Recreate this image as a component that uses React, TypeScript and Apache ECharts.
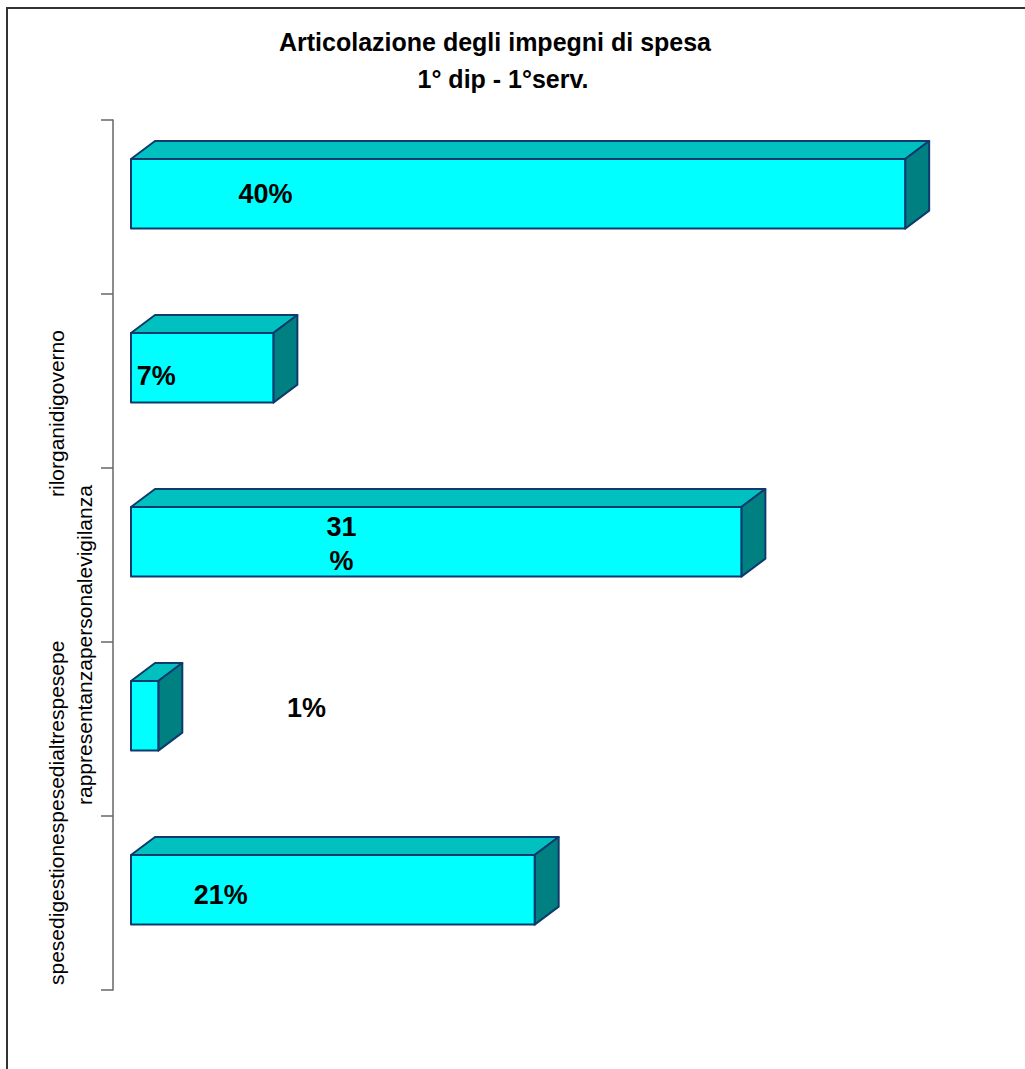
import React, { useEffect, useRef } from "react";
import * as echarts from "echarts";

// ---- data ----
const CATEGORIES = [
  "rilorganidigoverno",
  "rappresentanza",
  "personalevigilanza",
  "altrespese",
  "spesedigestione",
];
const VALUES = [39.7, 7.3, 31.3, 1.4, 20.7];
const LABELS = ["40%", "7%", "31\n%", "1%", "21%"];
// where Excel put each percentage label (value units along the bar)
const LABEL_AT = [6.9, 1.3, 10.8, 9.0, 4.6];
const LABEL_DY = [0, 8, 2, -8, 5];
const TITLE_LINES = ["Articolazione degli impegni di spesa", "1° dip - 1°serv."];
const AXIS_TEXT_1A = "spesedigestionespesedialtrespesepe";
const AXIS_TEXT_1B = "rilorganidigoverno";
const AXIS_TEXT_2 = "rappresentanzapersonalevigilanza";

const FONT = '"Liberation Sans", Arial, Helvetica, sans-serif';
const EDGE = "#0F3A6C";

export default function App() {
  const ref = useRef<HTMLDivElement>(null);

  useEffect(() => {
    if (!ref.current) return;
    const chart = echarts.init(ref.current, null, { renderer: "svg" });

    const option: any = {
      animation: false,
      backgroundColor: "#ffffff",
      grid: { left: 131, right: 114, top: 120, bottom: 79 },
      xAxis: { type: "value", min: 0, max: 40, show: false },
      yAxis: {
        type: "category",
        data: CATEGORIES,
        inverse: true,
        offset: 18,
        axisLine: { show: true, onZero: false, lineStyle: { color: "#666666", width: 1.5 } },
        axisTick: { show: true, length: 12, lineStyle: { color: "#666666", width: 1.5 } },
        axisLabel: { show: false },
        splitLine: { show: false },
      },
      series: [
        {
          type: "custom",
          clip: false,
          encode: { x: 0, y: 1 },
          data: VALUES.map((v, i) => [v, i]),
          renderItem: (params: any, api: any) => {
            const idx = api.value(1);
            const v = api.value(0);
            const p1 = api.coord([v, idx]);
            const p0 = api.coord([0, idx]);
            const band = api.size([0, 1])[1];
            const x0 = p0[0];
            const x1 = p1[0];
            const yc = p1[1];
            const ft = yc - 0.276 * band;
            const h = 0.4 * band;
            const dx = 0.138 * band;
            const dy = 0.103 * band;
            const lp = api.coord([LABEL_AT[idx], idx]);
            const common = { stroke: EDGE, lineWidth: 2, lineJoin: "round" };
            return {
              type: "group",
              children: [
                {
                  type: "polygon",
                  shape: {
                    points: [
                      [x0, ft],
                      [x0 + dx, ft - dy],
                      [x1 + dx, ft - dy],
                      [x1, ft],
                    ],
                  },
                  style: { fill: "#00C0C0", ...common },
                },
                {
                  type: "polygon",
                  shape: {
                    points: [
                      [x1, ft],
                      [x1 + dx, ft - dy],
                      [x1 + dx, ft + h - dy],
                      [x1, ft + h],
                    ],
                  },
                  style: { fill: "#008080", ...common },
                },
                {
                  type: "rect",
                  shape: { x: x0, y: ft, width: x1 - x0, height: h },
                  style: { fill: "#00FFFF", ...common },
                },
                {
                  type: "text",
                  x: lp[0],
                  y: ft + h / 2 + LABEL_DY[idx],
                  style: {
                    text: LABELS[idx],
                    fill: "#000000",
                    fontFamily: FONT,
                    fontWeight: "bold",
                    fontSize: 27,
                    lineHeight: 34,
                    align: "center",
                    verticalAlign: "middle",
                  },
                },
              ],
            };
          },
        },
      ],
      graphic: [
        {
          type: "rect",
          shape: { x: 7, y: 8, width: 1060, height: 1100 },
          style: { fill: "none", stroke: "#333333", lineWidth: 2 },
          silent: true,
        },
        {
          type: "text",
          x: 495,
          y: 42,
          style: {
            text: TITLE_LINES[0],
            fill: "#000",
            fontFamily: FONT,
            fontWeight: "bold",
            fontSize: 25,
            align: "center",
            verticalAlign: "middle",
          },
        },
        {
          type: "text",
          x: 503,
          y: 79,
          style: {
            text: TITLE_LINES[1],
            fill: "#000",
            fontFamily: FONT,
            fontWeight: "bold",
            fontSize: 25,
            align: "center",
            verticalAlign: "middle",
          },
        },
        {
          type: "text",
          x: 56,
          y: 985,
          rotation: Math.PI / 2,
          style: {
            text: AXIS_TEXT_1A,
            fill: "#000",
            fontFamily: FONT,
            fontSize: 21,
            align: "left",
            verticalAlign: "middle",
          },
        },
        {
          type: "text",
          x: 56,
          y: 497,
          rotation: Math.PI / 2,
          style: {
            text: AXIS_TEXT_1B,
            fill: "#000",
            fontFamily: FONT,
            fontSize: 21,
            align: "left",
            verticalAlign: "middle",
          },
        },
        {
          type: "text",
          x: 84,
          y: 805,
          rotation: Math.PI / 2,
          style: {
            text: AXIS_TEXT_2,
            fill: "#000",
            fontFamily: FONT,
            fontSize: 21,
            align: "left",
            verticalAlign: "middle",
          },
        },
      ],
    };

    chart.setOption(option);
    return () => chart.dispose();
  }, []);

  return (
    <div
      ref={ref}
      style={{ position: "absolute", left: 0, top: 0, width: 1025, height: 1069 }}
    />
  );
}
